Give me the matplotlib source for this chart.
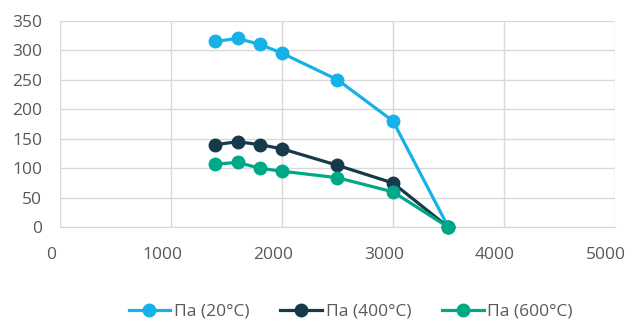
import matplotlib
matplotlib.use("Agg")
import matplotlib.pyplot as plt
import matplotlib.transforms as mtransforms

plt.rcParams['font.family'] = ['Open Sans', 'DejaVu Sans']

x = [1400, 1600, 1800, 2000, 2500, 3000, 3500]
y20 = [315, 320, 310, 295, 250, 180, 0]
y400 = [140, 145, 140, 133, 105, 75, 0]
y600 = [107, 110, 100, 95, 84, 60, 0]
labels = ['Па (20°C)', 'Па (400°C)', 'Па (600°C)']
colors = ['#16B1E8', '#173A4A', '#00A985']

fig = plt.figure(figsize=(6.32, 3.24), dpi=100)
ax = fig.add_axes([0.095, 0.2985, 0.878, 0.6375])

for ys, lab, c in zip([y20, y400, y600], labels, colors):
    ax.plot(x, ys, color=c, lw=2.3, marker='o', ms=9, label=lab, clip_on=False, zorder=3)

ax.set_xlim(0, 5000)
ax.set_ylim(0, 350)
ax.set_xticks(range(0, 5001, 1000))
ax.set_yticks(range(0, 351, 50))
ax.grid(True, color='#D9D9D9', lw=1)
ax.set_axisbelow(True)
for s in ['top', 'right', 'left']:
    ax.spines[s].set_visible(False)
ax.spines['bottom'].set_color('#D9D9D9')
ax.tick_params(axis='both', length=0, labelsize=12.5, labelcolor='#595959')
ax.tick_params(axis='x', pad=14)
ax.tick_params(axis='y', pad=13)
offset = mtransforms.ScaledTranslation(-9/100, 0, fig.dpi_scale_trans)
for lbl in ax.get_xticklabels():
    lbl.set_transform(lbl.get_transform() + offset)

leg = fig.legend(loc='lower center', bbox_to_anchor=(0.555, -0.035), ncol=3, frameon=False,
                 fontsize=12.5, labelcolor='#595959', handlelength=2.4, columnspacing=1.8,
                 handletextpad=0.2)
fig.savefig('out.png', dpi=100)
